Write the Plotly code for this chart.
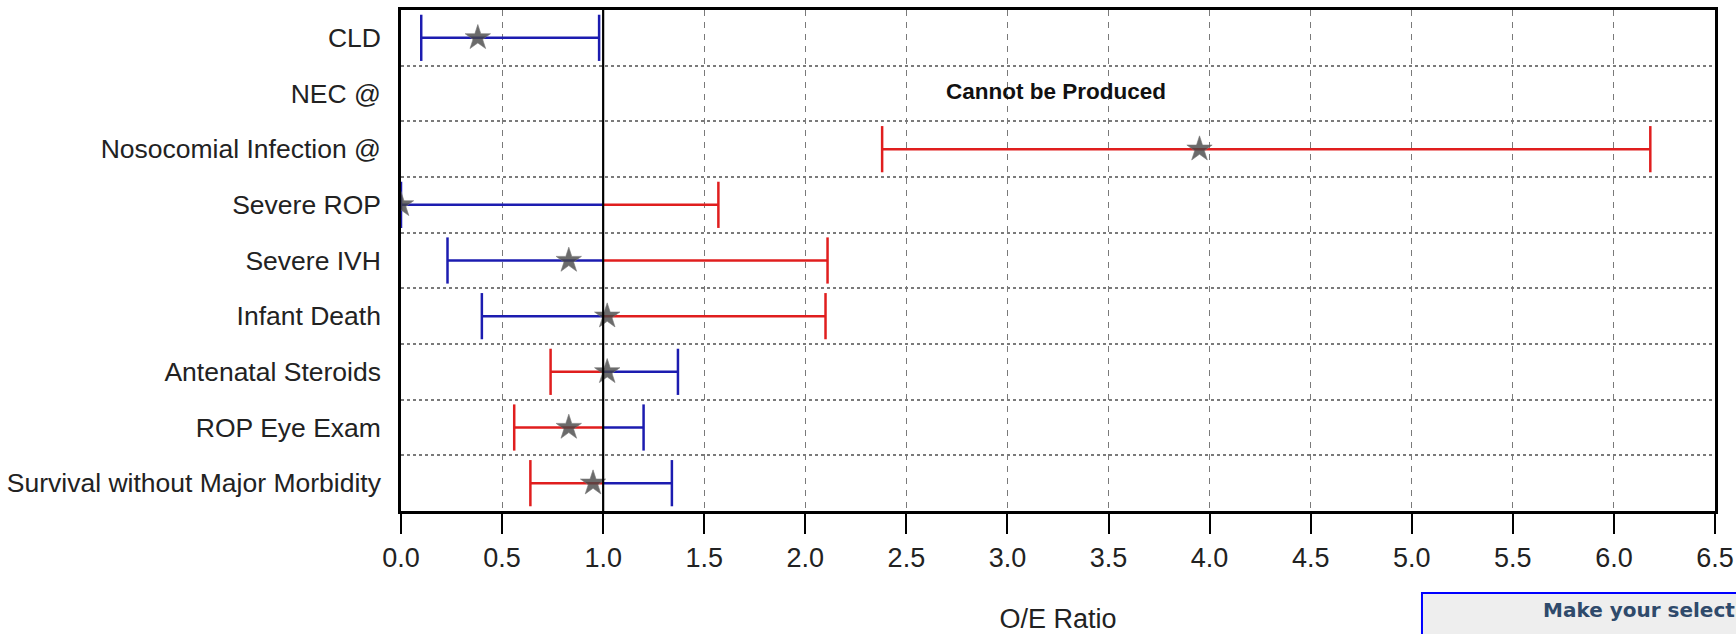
import plotly.graph_objects as go

# ---- data ----
categories = ["CLD", "NEC @", "Nosocomial Infection @", "Severe ROP", "Severe IVH",
              "Infant Death", "Antenatal Steroids", "ROP Eye Exam",
              "Survival without Major Morbidity"]
oe_ratio = [0.38, None, 3.95, 0.0, 0.83, 1.02, 1.02, 0.83, 0.95]
ci_lower = [0.10, None, 2.38, 0.0, 0.23, 0.40, 0.74, 0.56, 0.64]
ci_upper = [0.98, None, 6.18, 1.57, 2.11, 2.10, 1.37, 1.20, 1.34]
higher_is_better = [False, False, False, False, False, False, True, True, True]
no_data_category = "NEC @"
no_data_text = "Cannot be Produced"
no_data_x = 3.24
x_ticks = [0.0, 0.5, 1.0, 1.5, 2.0, 2.5, 3.0, 3.5, 4.0, 4.5, 5.0, 5.5, 6.0, 6.5]
reference_value = 1.0
title_text = "2015"
x_title = "O/E Ratio"
button_text = "Make your selection"

BLUE = "#1c1cb0"
RED = "#e01e1e"
FONT = "Liberation Sans, Arial, sans-serif"

blue_x, blue_y, red_x, red_y = [], [], [], []
cap_x, cap_y, cap_c = [], [], []
for cat, lo, hi, hb in zip(categories, ci_lower, ci_upper, higher_is_better):
    if lo is None:
        continue
    below_c = RED if hb else BLUE
    above_c = BLUE if hb else RED
    if lo < reference_value:
        seg_hi = min(hi, reference_value)
        xs, ys = (red_x, red_y) if below_c == RED else (blue_x, blue_y)
        xs += [lo, seg_hi, None]
        ys += [cat, cat, None]
    if hi > reference_value:
        seg_lo = max(lo, reference_value)
        xs, ys = (red_x, red_y) if above_c == RED else (blue_x, blue_y)
        xs += [seg_lo, hi, None]
        ys += [cat, cat, None]
    cap_x += [lo, hi]
    cap_y += [cat, cat]
    cap_c += [below_c if lo < reference_value else above_c,
              above_c if hi > reference_value else below_c]

fig = go.Figure()
fig.add_trace(go.Scatter(x=blue_x, y=blue_y, mode="lines",
                         line=dict(color=BLUE, width=2.5), hoverinfo="skip"))
fig.add_trace(go.Scatter(x=red_x, y=red_y, mode="lines",
                         line=dict(color=RED, width=2.5), hoverinfo="skip"))
fig.add_trace(go.Scatter(x=cap_x, y=cap_y, mode="markers",
                         marker=dict(symbol="line-ns", size=33,
                                     line=dict(color=cap_c, width=2.5)),
                         hoverinfo="skip"))
fig.add_trace(go.Scatter(x=oe_ratio, y=categories, mode="markers",
                         marker=dict(symbol="star", size=19,
                                     color="rgba(70,70,70,0.8)",
                                     line=dict(color="rgba(120,120,120,0.6)", width=1))))
fig.add_trace(go.Scatter(x=[no_data_x], y=[no_data_category], mode="text",
                         text=[no_data_text],
                         textfont=dict(family=FONT, size=22.5, color="#111111",
                                       weight="bold")))

fig.add_shape(type="line", xref="x", yref="paper", x0=reference_value, x1=reference_value,
              y0=0, y1=1, line=dict(color="black", width=2.2))

# title cut off at the top of the page
fig.add_annotation(text=title_text, xref="paper", yref="paper", x=0.5, y=1.0,
                   yanchor="bottom", yshift=2, showarrow=False,
                   font=dict(family=FONT, size=27, color="#222222"))

# page button artifact
fig.add_shape(type="rect", xref="paper", yref="paper", x0=0.777, x1=1.05,
              y0=-0.30, y1=-0.1637, fillcolor="#eeeeee",
              line=dict(color="#0000ff", width=2), layer="above")
fig.add_annotation(text=button_text, xref="paper", yref="paper", x=0.8676, y=-0.1976,
                   xanchor="left", yanchor="middle", showarrow=False,
                   font=dict(family="DejaVu Sans, Verdana, sans-serif", size=20,
                             color="#2f4a6b", weight="bold"))

fig.update_layout(
    width=1736, height=634,
    margin=dict(l=401, r=21, t=10, b=123, autoexpand=False),
    paper_bgcolor="white", plot_bgcolor="white",
    showlegend=False,
    font=dict(family=FONT, size=27, color="#222222"),
    xaxis=dict(range=[0, 6.5], tickvals=x_ticks,
               ticktext=[f"{v:.1f}" for v in x_ticks],
               showgrid=True, gridcolor="#7a7a7a", gridwidth=1.2, griddash="6px,6px",
               zeroline=False, showline=True, linecolor="black", linewidth=2.5,
               mirror=True, ticks="outside", ticklen=20, tickwidth=2, tickcolor="black",
               ticklabelstandoff=1, automargin=False,
               title=dict(text=x_title, standoff=37, font=dict(size=27))),
    yaxis=dict(type="category", categoryorder="array", categoryarray=categories,
               range=[8.5, -0.5], tickson="boundaries", ticks="",
               tickfont=dict(size=26.5),
               showgrid=True, gridcolor="#7a7a7a", gridwidth=1.5, griddash="dot",
               showline=True, linecolor="black", linewidth=2.5, mirror=True,
               zeroline=False, ticklabelstandoff=12, automargin=False),
)

fig.write_html("out.html")
